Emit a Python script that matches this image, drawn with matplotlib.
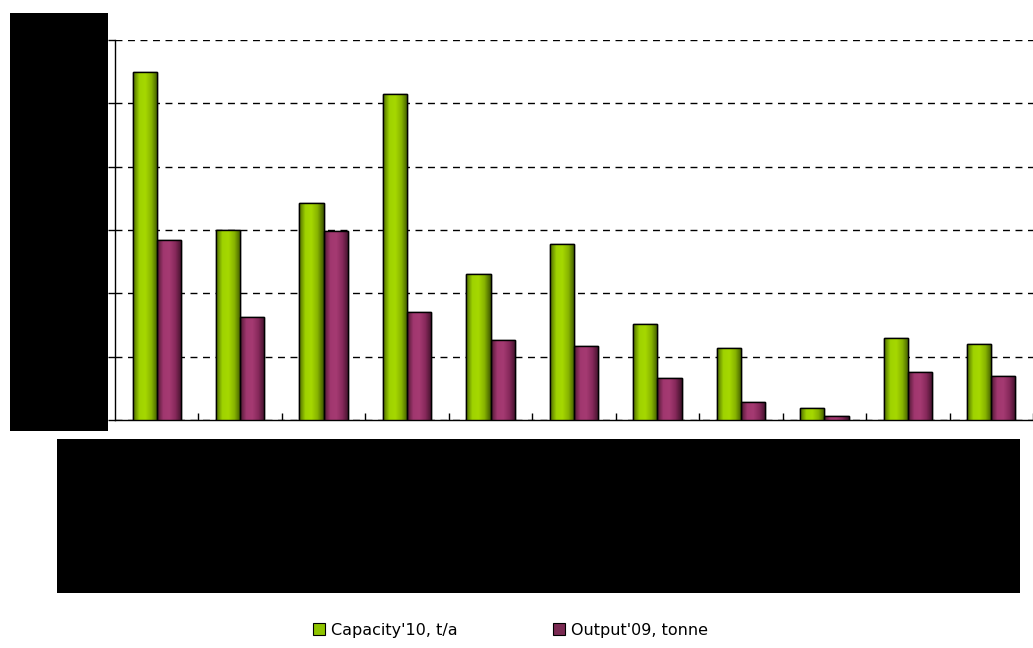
import numpy as np
import matplotlib
matplotlib.use('Agg')
import matplotlib.pyplot as plt
from matplotlib.colors import LinearSegmentedColormap
from matplotlib.patches import Rectangle

# values (axis labels are blacked out in the source)
categories = ['C1', 'C2', 'C3', 'C4', 'C5', 'C6', 'C7', 'C8', 'C9', 'C10', 'C11']
capacity = [55.0, 30.0, 34.2, 51.4, 23.1, 27.8, 15.2, 11.4, 1.9, 12.9, 12.0]
output = [28.4, 16.2, 29.8, 17.1, 12.6, 11.7, 6.6, 2.9, 0.6, 7.6, 6.9]
yticks = [0, 10, 20, 30, 40, 50, 60]

plt.rcParams['font.family'] = ['DejaVu Sans']

fig = plt.figure(figsize=(10.33, 6.48), dpi=100)
W, H = 1033.0, 648.0
ax = fig.add_axes([115 / W, 1 - 420 / H, (W - 115) / W, 380 / H])

x = np.arange(len(categories)) + 0.5
bw = 0.29

green_cm = LinearSegmentedColormap.from_list('g', ['#4d6b00', '#9fd300', '#a6d800', '#86b300', '#3f5800'])
purple_cm = LinearSegmentedColormap.from_list('p', ['#4e1833', '#a1376f', '#a53a72', '#85285a', '#3e1229'])
grad = np.linspace(0, 1, 64).reshape(1, -1)

bars1 = ax.bar(x - bw / 2, capacity, bw, color='#8fc400', edgecolor='black', linewidth=1.0, zorder=3)
bars2 = ax.bar(x + bw / 2, output, bw, color='#993366', edgecolor='black', linewidth=1.0, zorder=3)

# cylinder-ish shading like the original excel chart
for bars, cm in ((bars1, green_cm), (bars2, purple_cm)):
    for b in bars:
        x0, y0 = b.get_x(), b.get_y()
        im = ax.imshow(grad, cmap=cm, aspect='auto', zorder=3.5,
                       extent=[x0, x0 + b.get_width(), y0, y0 + b.get_height()])
        im.set_clip_path(b)
        edge = Rectangle((x0, y0), b.get_width(), b.get_height(), fill=False,
                         edgecolor='black', linewidth=1.0, zorder=4)
        ax.add_patch(edge)

ax.set_xlim(0, (W - 115) / 84.0)
ax.set_ylim(0, 60)
ax.set_yticks(yticks)
ax.set_yticklabels([])
ax.yaxis.grid(True, linestyle=(0, (5, 4)), color='black', linewidth=1.0, zorder=1)
ax.set_axisbelow(True)

ax.set_xticks(np.arange(1, len(categories) + 1))
ax.set_xticklabels([])
ax.tick_params(axis='x', direction='in', length=5, width=1, color='black')
ax.tick_params(axis='y', direction='out', length=5, width=1, color='black')

for s in ['top', 'right']:
    ax.spines[s].set_visible(False)
ax.spines['left'].set_linewidth(1.0)
ax.spines['bottom'].set_linewidth(1.0)

# redaction boxes as in the source image
fig.patches.append(Rectangle((10 / W, 1 - 431 / H), 98 / W, 418 / H, transform=fig.transFigure,
                             facecolor='black', edgecolor='none', zorder=10))
fig.patches.append(Rectangle((57 / W, 1 - 593 / H), 963 / W, 154 / H, transform=fig.transFigure,
                             facecolor='black', edgecolor='none', zorder=10))

h1 = Rectangle((0, 0), 1, 1, facecolor='#8fc400', edgecolor='black', linewidth=0.8)
h2 = Rectangle((0, 0), 1, 1, facecolor='#7a2a52', edgecolor='black', linewidth=0.8)
fig.legend([h1, h2], ["Capacity'10, t/a", "Output'09, tonne"], loc='center left',
           bbox_to_anchor=(313 / W, 1 - 630 / H), ncol=2, frameon=False, borderpad=0,
           borderaxespad=0, fontsize=11.5, handlelength=0.75, handleheight=0.75,
           handletextpad=0.35, columnspacing=6.0)

fig.savefig('out.png', dpi=100)
